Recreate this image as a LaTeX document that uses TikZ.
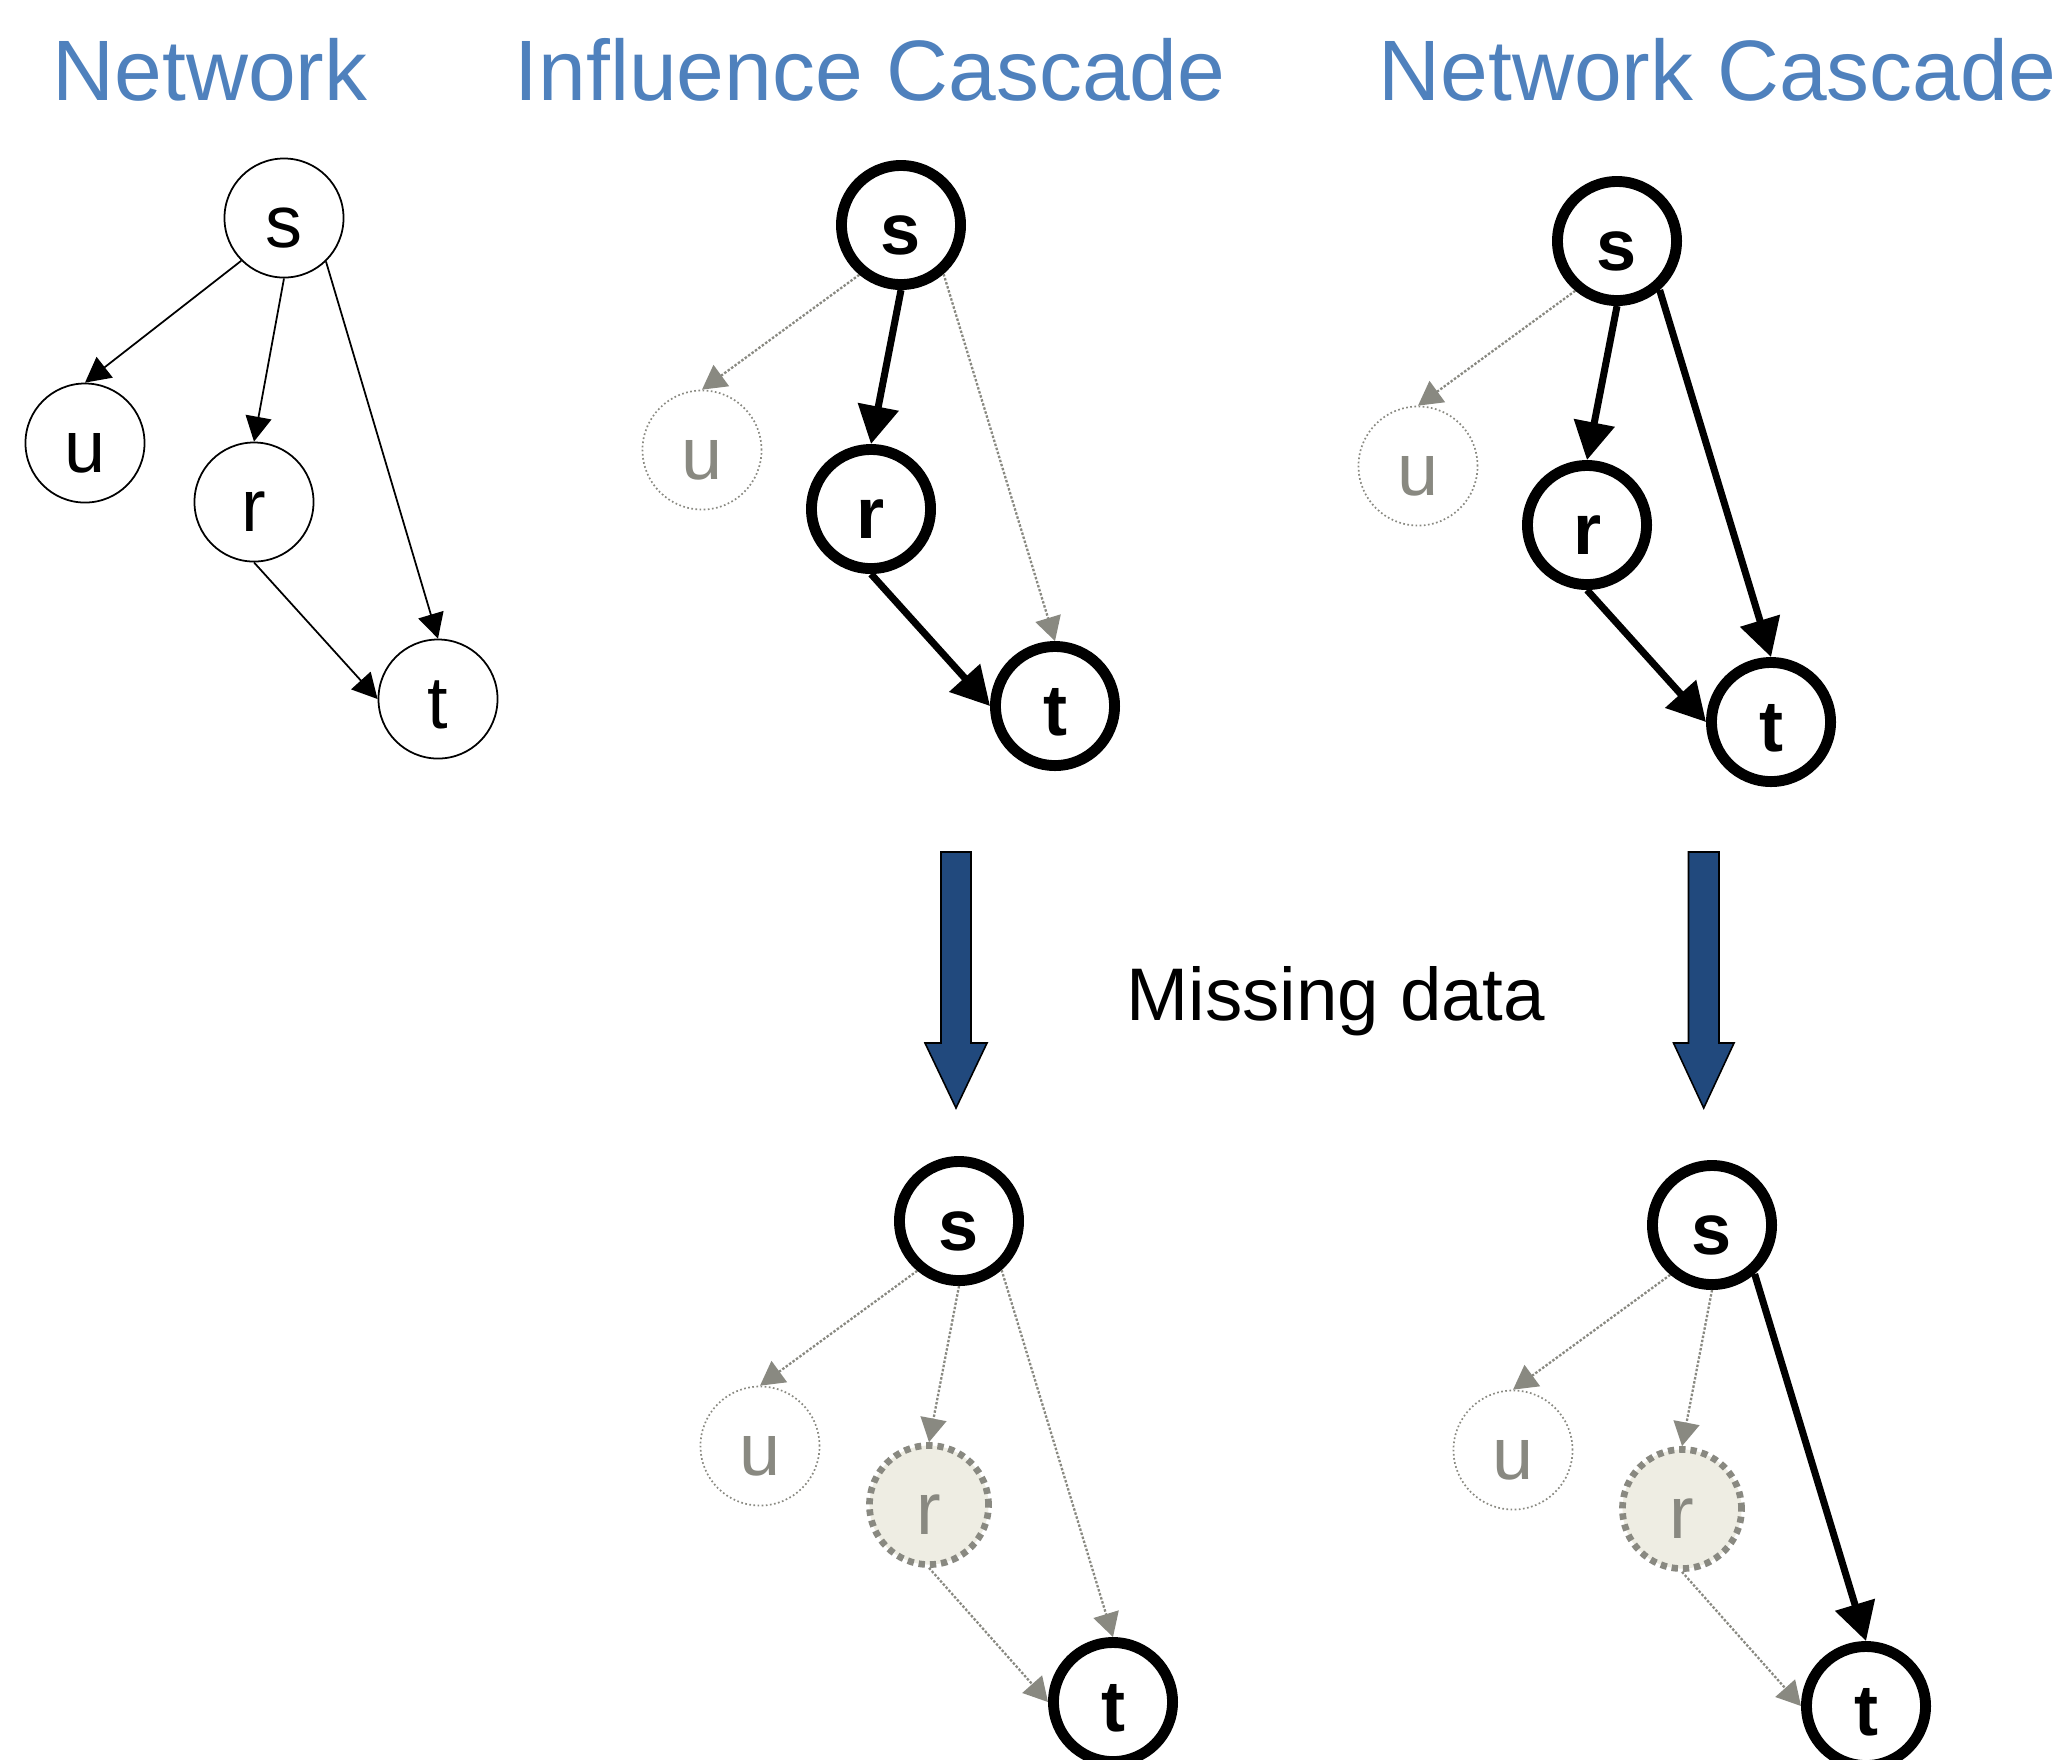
\documentclass[tikz,border=0pt]{standalone}
\usepackage{fontspec}
\setmainfont{Liberation Sans}
\usetikzlibrary{arrows.meta}
\definecolor{mgray}{RGB}{137,137,129}
\definecolor{mfill}{RGB}{238,237,227}
\definecolor{tblue}{RGB}{79,129,189}
\definecolor{bblue}{RGB}{33,73,125}
\tikzset{
  every node/.style={inner sep=0pt},
  vtx/.style={circle, minimum size=1.19cm, text height=16.5pt, text depth=0pt, font=\fontsize{21}{21}\selectfont},
  plainv/.style={vtx, draw, line width=0.5pt},
  activev/.style={vtx, draw, line width=3.1pt, font=\fontsize{20.5}{20.5}\selectfont\bfseries},
  hiddenv/.style={vtx, draw=mgray, line width=0.48pt, dash pattern=on 0.48pt off 0.7pt, text=mgray},
  missingv/.style={vtx, draw=mgray, fill=mfill, line width=1.9pt, dash pattern=on 1.8pt off 1.4pt, text=mgray},
  thinedge/.style={line width=0.5pt, -{Triangle[length=7.1pt,width=7.4pt]}},
  thickedge/.style={line width=2pt, -{Triangle[length=10.8pt,width=11.4pt]}},
  grayedge/.style={draw=mgray, line width=0.65pt, dash pattern=on 0.7pt off 0.5pt, -{Triangle[length=6.8pt,width=7.4pt]}},
  titletext/.style={anchor=base west, text=tblue, font=\fontsize{24.4}{24.4}\selectfont},
  bigarrow/.style={fill=bblue, draw=black, line width=0.45pt, line join=miter},
}
\begin{document}
\begin{tikzpicture}[x=0.01cm,y=-0.01cm]
\useasboundingbox (0,0) rectangle (2052,1759);

% titles
\node[titletext] (t1) at (52,100) {Network};
\node[titletext] (t2) at (514,100) {Influence Cascade};
\node[titletext] (t3) at (1378,100) {Network Cascade};
\node[anchor=base west, font=\fontsize{21.2}{21.2}\selectfont] (md) at (1126,1020) {Missing data};

% A: network
\begin{scope}[shift={(284,218)}]
  \node[plainv] (as) at (0,0) {s};
  \node[plainv] (au) at (-199,225) {u};
  \node[plainv] (ar) at (-30,284) {r};
  \node[plainv] (at) at (154,481) {t};
  \draw[thinedge] (as.225) -- (au.north);
  \draw[thinedge] (as.south) -- (ar.north);
  \draw[thinedge] (as.-46) -- (at.north);
  \draw[thinedge] (ar.south) -- (at.west);
\end{scope}

% B: influence cascade
\begin{scope}[shift={(901,225)}]
  \node[activev] (bs) at (0,0) {s};
  \node[hiddenv] (bu) at (-199,225) {u};
  \node[activev] (br) at (-30,284) {r};
  \node[activev] (bt) at (154,481) {t};
  \draw[grayedge] (bs.230) -- (bu.north);
  \draw[thickedge] (bs.south) -- (br.north);
  \draw[grayedge] (bs.-49) -- (bt.north);
  \draw[thickedge] (br.south) -- (bt.west);
\end{scope}

% C: network cascade
\begin{scope}[shift={(1617,241)}]
  \node[activev] (cs) at (0,0) {s};
  \node[hiddenv] (cu) at (-199,225) {u};
  \node[activev] (cr) at (-30,284) {r};
  \node[activev] (ct) at (154,481) {t};
  \draw[grayedge] (cs.230) -- (cu.north);
  \draw[thickedge] (cs.south) -- (cr.north);
  \draw[thickedge] (cs.-49) -- (ct.north);
  \draw[thickedge] (cr.south) -- (ct.west);
\end{scope}

% D: influence cascade with missing data
\begin{scope}[shift={(959,1221)}]
  \node[activev] (ds) at (0,0) {s};
  \node[hiddenv] (du) at (-199,225) {u};
  \node[missingv] (dr) at (-30,284) {r};
  \node[activev] (dt) at (154,481) {t};
  \draw[grayedge] (ds.230) -- (du.north);
  \draw[grayedge] (ds.south) -- (dr.north);
  \draw[grayedge] (ds.-49) -- (dt.north);
  \draw[grayedge] (dr.south) -- (dt.west);
\end{scope}

% E: network cascade with missing data
\begin{scope}[shift={(1712,1225)}]
  \node[activev] (es) at (0,0) {s};
  \node[hiddenv] (eu) at (-199,225) {u};
  \node[missingv] (er) at (-30,284) {r};
  \node[activev] (et) at (154,481) {t};
  \draw[grayedge] (es.230) -- (eu.north);
  \draw[grayedge] (es.south) -- (er.north);
  \draw[thickedge] (es.-49) -- (et.north);
  \draw[grayedge] (er.south) -- (et.west);
\end{scope}

% big blue arrows
\draw[bigarrow] (941,852) -- (971,852) -- (971,1043) -- (987,1043) -- (956,1108) -- (925,1043) -- (941,1043) -- cycle;
\draw[bigarrow] (1688.5,852) -- (1719,852) -- (1719,1043) -- (1734,1043) -- (1703.7,1108) -- (1673.5,1043) -- (1688.5,1043) -- cycle;
\end{tikzpicture}
\end{document}
